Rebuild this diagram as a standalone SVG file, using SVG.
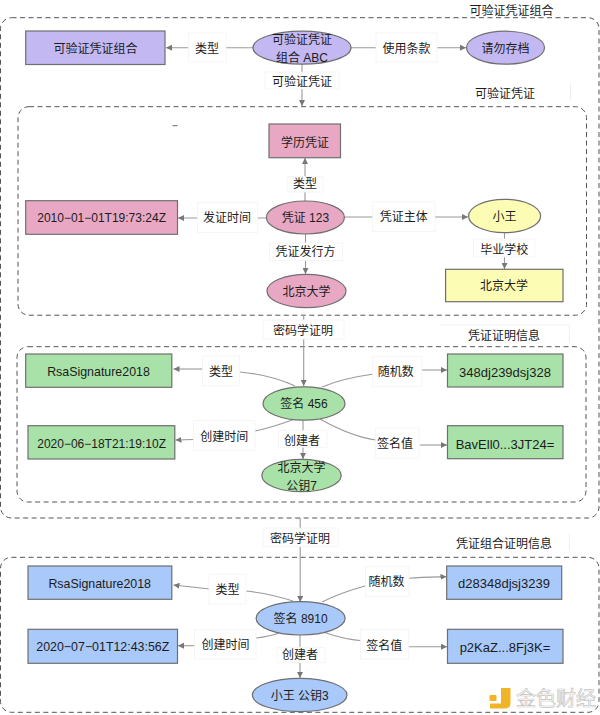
<svg xmlns="http://www.w3.org/2000/svg" width="600" height="715" viewBox="0 0 600 715">
<style>
text{font-family:"Liberation Sans","Noto Sans CJK SC",sans-serif;font-size:12px;fill:#1c1c1c;text-anchor:middle;dominant-baseline:central}
.l13{font-size:13px}
.l125{font-size:12.4px}
.n{stroke:#6f6f6f;stroke-width:1.2}
.purple{fill:#c3b8f2}.pink{fill:#e8a8c4}.yellow{fill:#fdfcb4}.green{fill:#a8e2a8}.blue{fill:#a9c9fa}
.dash{fill:none;stroke:#555;stroke-width:1;stroke-dasharray:5 3.5}
.c{fill:none;stroke:#9a9a9a;stroke-width:1.1}
.a{marker-end:url(#ah)}
.lb{fill:#fff;stroke:#f3f3f3;stroke-width:.8}
</style>
<defs>
<marker id="ah" markerWidth="7" markerHeight="6" refX="6" refY="3" orient="auto" markerUnits="userSpaceOnUse"><path d="M0 0L6 3L0 6z" fill="#777"/></marker>
</defs>
<rect width="600" height="715" fill="#fff"/>
<g id="frames">
<rect class="dash" x="0.5" y="17.7" width="598.5" height="500.3" rx="11"/>
<rect class="dash" x="18" y="106.7" width="568.5" height="208.5" rx="11"/>
<rect class="dash" x="17" y="346.7" width="569" height="155.3" rx="11"/>
<rect class="dash" x="0.5" y="557.3" width="598.5" height="155" rx="11"/>
<path d="M172.5 125.7h5" stroke="#666" stroke-width="1" fill="none"/>
</g>
<g id="connectors">
<path class="c a" d="M253 47.7H166"/>
<path class="c a" d="M351 47.7H466"/>
<path class="c a" d="M302 64V106"/>
<path class="c a" d="M305 201V158"/>
<path class="c a" d="M266 218H178"/>
<path class="c a" d="M344 217H468"/>
<path class="c a" d="M305.500 234V274"/>
<path class="c a" d="M504.500 233V269"/>
<path class="c a" d="M303.700 315V386"/>
<path class="c a" d="M203 369H173.500"/>
<path class="c" d="M239.700 372C262 374 280 379 295 386"/>
<path class="c a" d="M421.800 370H447"/>
<path class="c" d="M373.800 374C352 377 336 381 322 387"/>
<path class="c a" d="M193.600 439.500L175.500 440"/>
<path class="c" d="M255 431C270 428 284 423 295 419"/>
<path class="c a" d="M303 420V459"/>
<path class="c" d="M320 419C336 428 355 437 375.700 440"/>
<path class="c a" d="M420 445H447"/>
<path class="c a" d="M300.200 518V602"/>
<path class="c a" d="M210 589L173.500 585"/>
<path class="c" d="M246 591C264 593 280 597 293 601"/>
<path class="c a" d="M409 578.300C422 577 434 577 446.500 576.700"/>
<path class="c" d="M366 585.700C350 590 334 596 322 602"/>
<path class="c a" d="M195.500 645.700H178"/>
<path class="c" d="M256 638C266 637 274 635 282 632"/>
<path class="c a" d="M300 635V678"/>
<path class="c" d="M324 632.300C337 637 350 640 364.300 641"/>
<path class="c a" d="M408.400 646.700H447"/>
</g>
<g id="edge-labels">
<rect class="lb" x="188.600" y="33" width="37.400" height="29"/><text x="207" y="49">类型</text>
<rect class="lb" x="376" y="33" width="61" height="29"/><text x="406.500" y="49">使用条款</text>
<rect class="lb" x="265" y="72" width="74" height="17"/><text x="302" y="82">可验证凭证</text>
<rect class="lb" x="287" y="176.700" width="36" height="15.300"/><text x="305" y="184">类型</text>
<rect class="lb" x="197.500" y="202.700" width="60.200" height="29.600"/><text x="227" y="218">发证时间</text>
<rect class="lb" x="372.700" y="201.700" width="62.300" height="30"/><text x="403.800" y="217">凭证主体</text>
<rect class="lb" x="269.600" y="243" width="72.800" height="17.700"/><text x="305.600" y="252">凭证发行方</text>
<rect class="lb" x="473.500" y="239" width="61.500" height="18"/><text x="504.200" y="250">毕业学校</text>
<rect class="lb" x="263" y="320" width="81" height="19"/><text x="303" y="330.700">密码学证明</text>
<rect class="lb" x="202.500" y="356" width="37.200" height="29.700"/><text x="221" y="372">类型</text>
<rect class="lb" x="372.700" y="356.700" width="49.100" height="30"/><text x="395.700" y="372">随机数</text>
<rect class="lb" x="193.600" y="420.700" width="61.400" height="29.300"/><text x="224.300" y="436.700">创建时间</text>
<rect class="lb" x="278.700" y="430.700" width="48.300" height="16.600"/><text x="302" y="441">创建者</text>
<rect class="lb" x="375.700" y="428" width="43.300" height="30"/><text x="395" y="444">签名值</text>
<rect class="lb" x="263" y="528" width="75" height="18.700"/><text x="300" y="539">密码学证明</text>
<rect class="lb" x="209" y="574.300" width="37" height="29.700"/><text x="227.400" y="590">类型</text>
<rect class="lb" x="365.400" y="566.700" width="43.600" height="30"/><text x="386.500" y="582.300">随机数</text>
<rect class="lb" x="194.400" y="630" width="61.600" height="29"/><text x="225.500" y="645">创建时间</text>
<rect class="lb" x="276.800" y="647.300" width="48" height="15.400"/><text x="300" y="655">创建者</text>
<rect class="lb" x="360.400" y="629.300" width="48" height="29.700"/><text x="384.200" y="645.700">签名值</text>
</g>
<g id="frame-titles">
<text x="511.500" y="10.700">可验证凭证组合</text>
<path d="M570.500 83V100M569.400 325V343M569.400 535V551" stroke="#e8e8e8" stroke-width=".8" fill="none"/>
<path d="M440 325H569" stroke="#eee" stroke-width=".8" fill="none"/>
<text x="505" y="93.700">可验证凭证</text>
<text x="504" y="335.700">凭证证明信息</text>
<text x="504" y="544.300">凭证组合证明信息</text>
</g>
<g id="n-vp-type"><rect class="n purple" x="25.700" y="31" width="139.300" height="33.500"/><text x="95.500" y="49">可验证凭证组合</text></g>
<g id="n-vp"><ellipse class="n purple" cx="302" cy="47.700" rx="49" ry="16.500"/><text x="302" y="40">可验证凭证</text><text x="302" y="57.500">组合 ABC</text></g>
<g id="n-terms"><ellipse class="n purple" cx="505.500" cy="47.700" rx="39" ry="16.500"/><text x="505.500" y="49">请勿存档</text></g>
<g id="n-vc-type"><rect class="n pink" x="269" y="124" width="71.500" height="33.700"/><text x="305" y="142.700">学历凭证</text></g>
<g id="n-vc"><ellipse class="n pink" cx="305.400" cy="217.500" rx="39" ry="16.500"/><text x="305.400" y="218">凭证 123</text></g>
<g id="n-vc-date"><rect class="n pink" x="25.700" y="200.700" width="151.800" height="33.600"/><text x="101.600" y="218">2010−01−01T19:73:24Z</text></g>
<g id="n-issuer"><ellipse class="n pink" cx="306.500" cy="291" rx="39.500" ry="16.700"/><text x="306.500" y="291.500">北京大学</text></g>
<g id="n-subject"><ellipse class="n yellow" cx="504.600" cy="216" rx="36" ry="16.700"/><text x="504.600" y="216.500">小王</text></g>
<g id="n-school"><rect class="n yellow" x="445.600" y="269.300" width="117.400" height="32.400"/><text x="504" y="286">北京大学</text></g>
<g id="n-p1"><ellipse class="n green" cx="304" cy="403.500" rx="41" ry="16.700"/><text x="304" y="404">签名 456</text></g>
<g id="n-p1-type"><rect class="n green" x="25.700" y="354" width="146.100" height="33.300"/><text class="l125" x="98.500" y="372">RsaSignature2018</text></g>
<g id="n-p1-nonce"><rect class="n green" x="447.500" y="354" width="115.500" height="33"/><text class="l13" x="505" y="372">348dj239dsj328</text></g>
<g id="n-p1-date"><rect class="n green" x="28" y="425.700" width="146.800" height="33.300"/><text x="101.600" y="444">2020−06−18T21:19:10Z</text></g>
<g id="n-p1-key"><ellipse class="n green" cx="301.500" cy="475.500" rx="39.700" ry="16.200"/><text x="301.500" y="467.700">北京大学</text><text x="301.500" y="485.700">公钥7</text></g>
<g id="n-p1-sig"><rect class="n green" x="447.500" y="425.700" width="115.500" height="33"/><text class="l13" x="505" y="444">BavEll0...3JT24=</text></g>
<g id="n-p2"><ellipse class="n blue" cx="300.600" cy="618.300" rx="44.500" ry="16.700"/><text x="300.600" y="618.700">签名 8910</text></g>
<g id="n-p2-type"><rect class="n blue" x="28" y="566" width="143.800" height="33.300"/><text class="l125" x="99.700" y="583.700">RsaSignature2018</text></g>
<g id="n-p2-nonce"><rect class="n blue" x="446.700" y="566" width="115" height="33.300"/><text class="l13" x="504" y="583.700">d28348djsj3239</text></g>
<g id="n-p2-date"><rect class="n blue" x="28" y="629.300" width="149.500" height="34"/><text class="l125" x="102.800" y="647.300">2020−07−01T12:43:56Z</text></g>
<g id="n-p2-sig"><rect class="n blue" x="447.500" y="629.300" width="115.500" height="34"/><text class="l13" x="505" y="647.300">p2KaZ...8Fj3K=</text></g>
<g id="n-p2-key"><ellipse class="n blue" cx="299.700" cy="695" rx="47.300" ry="16.700"/><text x="299.700" y="695.500">小王 公钥3</text></g>
<g id="watermark">
<path d="M501 688H510.500V703Q510.500 708.500 505 708.500H490V703.500H501Z" fill="#f0b429"/>
<rect x="489.500" y="695" width="7" height="6" rx="1" fill="#f0b429"/>
<text x="556" y="699" style="font-size:20px;fill:#fff;stroke:#c4c4c4;stroke-width:.7">金色财经</text>
</g>
</svg>
